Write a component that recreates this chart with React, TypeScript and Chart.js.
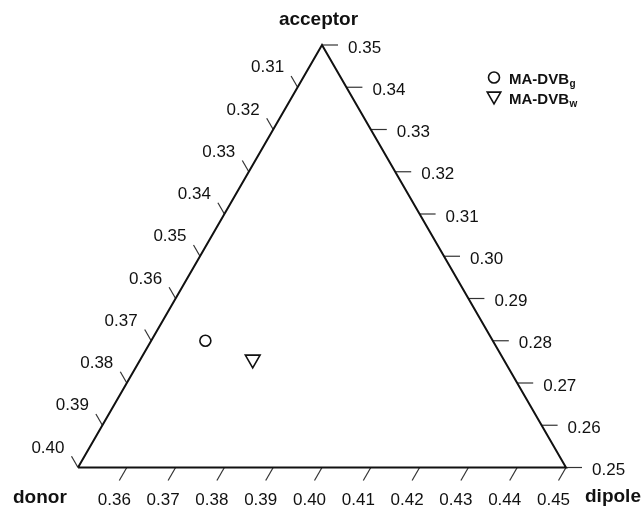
import React, { useEffect, useRef } from "react";
import { Chart, registerables } from "chart.js";

Chart.register(...registerables);

// ---- data ----
const acceptorTicks = [0.25, 0.26, 0.27, 0.28, 0.29, 0.3, 0.31, 0.32, 0.33, 0.34, 0.35];
const donorTicks = [0.31, 0.32, 0.33, 0.34, 0.35, 0.36, 0.37, 0.38, 0.39, 0.4];
const dipoleTicks = [0.36, 0.37, 0.38, 0.39, 0.4, 0.41, 0.42, 0.43, 0.44, 0.45];

const topTitle = "acceptor";
const leftTitle = "donor";
const rightTitle = "dipole";

const seriesNames = ["MA-DVB", "MA-DVB"];
const seriesSubs = ["g", "w"];
const acceptorValues = [0.28, 0.2756];
const dipoleValues = [0.3611, 0.373];
const donorValues = [0.3589, 0.3514];

const ACC_MIN = 0.25;
const DIP_MIN = 0.35;
const DON_MIN = 0.3;
const SPAN = 0.1;
const H = Math.sqrt(3) / 2;

// ternary -> cartesian (BL=(0,0), BR=(1,0), apex=(0.5,H))
function toXY(acc: number, dip: number) {
  const a = (acc - ACC_MIN) / SPAN;
  const d = (dip - DIP_MIN) / SPAN;
  return { x: d + a / 2, y: a * H };
}
function leftEdge(don: number) {
  const n = (don - DON_MIN) / SPAN;
  const a = 1 - n;
  return { x: a / 2, y: a * H };
}

const FONT = '"Liberation Sans", Arial, Helvetica, sans-serif';
const TL_BOTTOM = 15 / 488;
const TL_LEFT = 13 / 488;
const TL_RIGHT = 16 / 488;

function fmt(v: number) {
  return v.toFixed(2);
}

export default function App() {
  const ref = useRef<HTMLCanvasElement | null>(null);

  useEffect(() => {
    if (!ref.current) return;

    const tickSets: any[] = [];
    const bottomEnds: { x: number; y: number; label: string }[] = [];
    const leftEnds: { x: number; y: number; label: string }[] = [];
    const rightEnds: { x: number; y: number; label: string }[] = [];

    dipoleTicks.forEach((v) => {
      const p = toXY(ACC_MIN, v);
      const e = { x: p.x - 0.5 * TL_BOTTOM, y: p.y - H * TL_BOTTOM };
      tickSets.push([p, e]);
      bottomEnds.push({ ...e, label: fmt(v) });
    });
    donorTicks.forEach((v) => {
      const p = leftEdge(v);
      const e = { x: p.x - 0.5 * TL_LEFT, y: p.y + H * TL_LEFT };
      tickSets.push([p, e]);
      leftEnds.push({ ...e, label: fmt(v) });
    });
    acceptorTicks.forEach((v) => {
      const p = toXY(v, DIP_MIN + SPAN - (v - ACC_MIN));
      const e = { x: p.x + TL_RIGHT, y: p.y };
      tickSets.push([p, e]);
      rightEnds.push({ ...e, label: fmt(v) });
    });

    const corners = [
      toXY(ACC_MIN, DIP_MIN),
      toXY(ACC_MIN, DIP_MIN + SPAN),
      toXY(ACC_MIN + SPAN, DIP_MIN),
      toXY(ACC_MIN, DIP_MIN),
    ];

    const datasets: any[] = [
      {
        data: corners,
        showLine: true,
        borderColor: "#111",
        borderWidth: 2,
        pointRadius: 0,
        clip: false,
      },
      ...tickSets.map((seg) => ({
        data: seg,
        showLine: true,
        borderColor: "#333",
        borderWidth: 1.2,
        pointRadius: 0,
        clip: false,
      })),
      {
        data: [toXY(acceptorValues[0], dipoleValues[0])],
        pointStyle: "circle",
        pointRadius: 5.5,
        borderWidth: 1.6,
        borderColor: "#111",
        backgroundColor: "rgba(255,255,255,0)",
        clip: false,
      },
      {
        data: [toXY(acceptorValues[1], dipoleValues[1])],
        pointStyle: "triangle",
        rotation: 180,
        pointRadius: 8.5,
        borderWidth: 1.6,
        borderColor: "#111",
        backgroundColor: "rgba(255,255,255,0)",
        clip: false,
      },
    ];

    const textPlugin = {
      id: "ternaryText",
      afterDatasetsDraw(chart: any) {
        const ctx = chart.ctx as CanvasRenderingContext2D;
        const xs = chart.scales.x;
        const ys = chart.scales.y;
        const px = (p: { x: number; y: number }) => ({
          x: xs.getPixelForValue(p.x),
          y: ys.getPixelForValue(p.y),
        });
        ctx.save();
        ctx.fillStyle = "#111";
        ctx.font = `17px ${FONT}`;
        ctx.textAlign = "right";
        leftEnds.forEach((t) => {
          const q = px(t);
          ctx.fillText(t.label, q.x - 7, q.y - 3.5);
        });
        ctx.textAlign = "center";
        bottomEnds.forEach((t) => {
          const q = px(t);
          ctx.fillText(t.label, q.x - 5, q.y + 24.5);
        });
        ctx.textAlign = "left";
        rightEnds.forEach((t) => {
          const q = px(t);
          ctx.fillText(t.label, q.x + 10, q.y + 7.5);
        });

        // axis titles
        ctx.font = `bold 19px ${FONT}`;
        const apex = px(corners[2]);
        const bl = px(corners[0]);
        const br = px(corners[1]);
        ctx.textAlign = "center";
        ctx.fillText(topTitle, apex.x - 3.5, apex.y - 20);
        ctx.textAlign = "left";
        ctx.fillText(leftTitle, bl.x - 65, bl.y + 35);
        ctx.fillText(rightTitle, br.x + 19, br.y + 34);

        // legend
        const lx = 494;
        const rows = [77.5, 97.5];
        ctx.strokeStyle = "#111";
        ctx.lineWidth = 1.6;
        // circle
        ctx.beginPath();
        ctx.arc(lx, rows[0], 5.5, 0, Math.PI * 2);
        ctx.stroke();
        // triangle (down)
        const r = 7.8;
        const cy = rows[1] - 1.5;
        ctx.beginPath();
        ctx.moveTo(lx, cy + r);
        ctx.lineTo(lx - r * Math.sin(Math.PI / 3), cy - r / 2);
        ctx.lineTo(lx + r * Math.sin(Math.PI / 3), cy - r / 2);
        ctx.closePath();
        ctx.stroke();
        ctx.textAlign = "left";
        rows.forEach((ry, i) => {
          ctx.font = `bold 15px ${FONT}`;
          const tx = 509;
          const by = ry + 6.5;
          ctx.fillText(seriesNames[i], tx, by);
          const w = ctx.measureText(seriesNames[i]).width;
          ctx.font = `bold 10px ${FONT}`;
          ctx.fillText(seriesSubs[i], tx + w + 0.5, by + 3);
        });
        ctx.restore();
      },
    };

    const chart = new Chart(ref.current, {
      type: "scatter",
      data: { datasets },
      options: {
        responsive: false,
        animation: false,
        events: [],
        layout: { padding: { left: 78, right: 76, top: 45, bottom: 40.5 } },
        scales: {
          x: { type: "linear", min: 0, max: 1, display: false },
          y: { type: "linear", min: 0, max: H, display: false },
        },
        plugins: {
          legend: { display: false },
          tooltip: { enabled: false },
        },
      },
      plugins: [textPlugin],
    } as any);

    return () => chart.destroy();
  }, []);

  return (
    <div style={{ position: "absolute", left: 0, top: 0, width: 642, height: 508, background: "#fff" }}>
      <canvas ref={ref} width={642} height={508} style={{ display: "block" }} />
    </div>
  );
}
